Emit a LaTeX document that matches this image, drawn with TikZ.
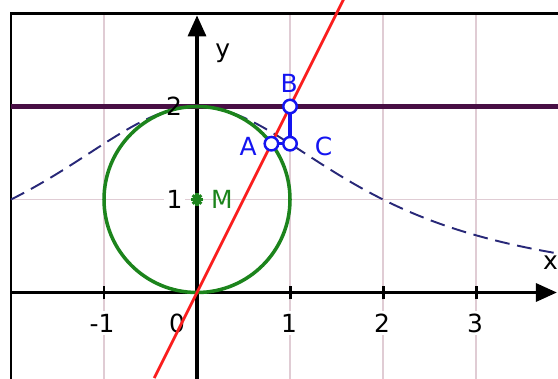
\documentclass[tikz,border=0pt]{standalone}
\usepackage{fontspec}
\setmainfont{DejaVu Sans}
\usepackage{tikz}
\usetikzlibrary{arrows.meta}

\definecolor{gridpink}{RGB}{224,204,212}
\definecolor{linepurple}{RGB}{72,14,68}
\definecolor{circgreen}{RGB}{28,132,28}
\definecolor{linered}{RGB}{250,30,30}
\definecolor{curvenavy}{RGB}{40,40,120}
\definecolor{ptblue}{RGB}{20,20,240}

\begin{document}
\begin{tikzpicture}[
        x=0.93cm, y=0.93cm,
        % Grid: pale pink lines
        grid_line/.style = {draw=gridpink, line width=0.45pt},
        % Axes: black with filled triangle tips
        axis_arrow/.style = {draw=black, line width=0.95pt, -{Triangle[length=2.1mm, width=1.8mm]}},
        tick_mark/.style = {draw=black, line width=0.85pt},
        % Labels on the axes: white box cuts the grid lines
        tick_lbl/.style = {font=\fontsize{7.1}{8.5}\selectfont, inner sep=0.8pt},
        % Construction points: open blue circles
        pt_open/.style = {circle, draw=ptblue, fill=white, line width=0.7pt,
                          minimum size=1.35mm, inner sep=0pt},
        pt_lbl/.style = {font=\fontsize{7.1}{8.5}\selectfont, text=ptblue, inner sep=0pt}
    ]

    % --- Window (same proportions as the screenshot) ---
    \useasboundingbox (-2.1183,-0.9194) rectangle (3.8817,3.1452);
    \clip (-2.1183,-0.9194) rectangle (3.8817,3.1452);

    % --- Grid ---
    \foreach \gx in {-1,1,2,3}
        \draw[grid_line] (\gx,-1) -- (\gx,3);
    \foreach \gy in {1,2}
        \draw[grid_line] (-2,\gy) -- (4,\gy);

    % --- Tick labels (white fill breaks the grid) ---
    \node[tick_lbl, fill=white] (lbl_xm1) at (-1.02,-0.33) {-1};
    \node[tick_lbl, fill=white] (lbl_x0) at (-0.215,-0.33) {0};
    \node[tick_lbl, fill=white] (lbl_x1) at (0.99,-0.33) {1};
    \node[tick_lbl, fill=white] (lbl_x2) at (1.99,-0.33) {2};
    \node[tick_lbl, fill=white] (lbl_x3) at (2.99,-0.33) {3};
    \node[tick_lbl, fill=white] (lbl_y1) at (-0.24,1) {1};

    % --- Frame and axes ---
    \draw[black, line width=0.75pt] (-2,-2) rectangle (5,3);
    \draw[axis_arrow] (-2,0) -- (3.87,0);
    \draw[axis_arrow] (0,-1) -- (0,2.98);
    \foreach \gx in {-1,1,2,3}
        \draw[tick_mark] (\gx,-0.075) -- (\gx,0.075);

    % --- Line y = 2 ---
    \draw[linepurple, line width=1.2pt] (-2,2) -- (4,2);

    % --- Witch of Agnesi (dashed) ---
    \draw[curvenavy, line width=0.55pt, dash pattern=on 4.2pt off 2.2pt]
        plot[domain=-2:3.95, samples=90, smooth] (\x,{8/(\x*\x+4)});

    % --- Circle about M ---
    \coordinate (M) at (0,1);
    \draw[circgreen, line width=1pt] (M) circle[radius=1];

    % --- Line through the origin and B ---
    \draw[linered, line width=0.8pt] (-0.46,-0.92) -- (1.6,3.2);

    % --- Centre M (star) ---
    \foreach \a in {0,45,90,135}
        \draw[circgreen, line width=0.9pt] ([shift={(\a:0.065)}]M) -- ([shift={(\a+180:0.065)}]M);

    % --- Points A, B, C ---
    \node[pt_open] (B) at (1,2) {};
    \node[pt_open] (C) at (1,1.6) {};
    \node[pt_open] (A) at (0.8,1.6) {};
    \draw[ptblue, line width=1.15pt] (B) -- (C);
    \draw[ptblue, line width=0.8pt] (A) -- (C);

    \node[pt_lbl] (B_lbl) at (0.99,2.25) {B};
    \node[pt_lbl] (A_lbl) at (0.55,1.575) {A};
    \node[pt_lbl] (C_lbl) at (1.36,1.575) {C};

    % --- Remaining labels ---
    \node[tick_lbl] (lbl_y2) at (-0.247,2) {2};
    \node[tick_lbl, text=circgreen] (M_lbl) at (0.267,1) {M};
    \node[tick_lbl] (y_lbl) at (0.276,2.575) {y};
    \node[tick_lbl] (x_lbl) at (3.8,0.317) {x};

\end{tikzpicture}
\end{document}
